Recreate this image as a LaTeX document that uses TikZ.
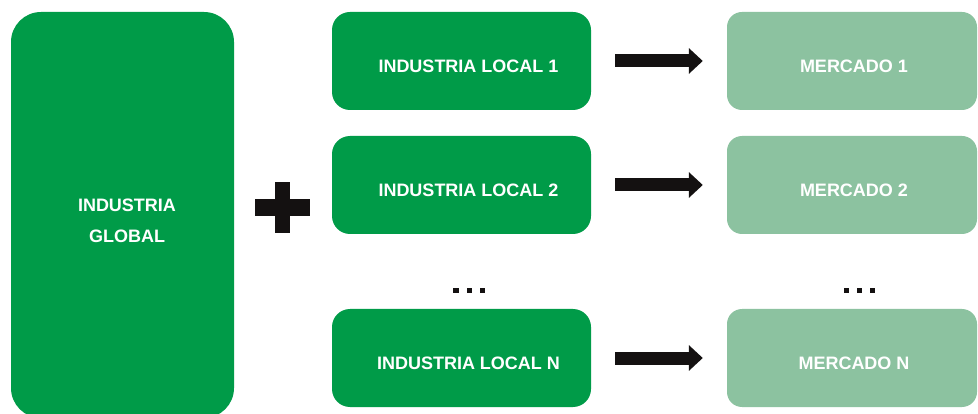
\documentclass[tikz,border=0pt]{standalone}
\usepackage{fontspec}
\setmainfont{Liberation Sans}
\usetikzlibrary{arrows.meta}
\definecolor{darkg}{RGB}{0,155,72}
\definecolor{lightg}{RGB}{140,194,160}
\definecolor{ink}{RGB}{20,17,17}
\begin{document}
\begin{tikzpicture}[x=1pt,y=-1pt,
  box/.style={inner sep=0pt, text=white, font=\bfseries\fontsize{18}{31}\selectfont},
  localbox/.style={box, fill=darkg, minimum width=259pt, minimum height=98pt, rounded corners=18pt, text height=23pt, text depth=0pt},
  marketbox/.style={box, fill=lightg, minimum width=250pt, minimum height=98pt, rounded corners=15pt, text height=23pt, text depth=0pt},
  globalbox/.style={box, fill=darkg, minimum width=223pt, minimum height=406pt, rounded corners=30pt, align=center, text height=55pt, text depth=0pt},
  bigarrow/.style={draw=ink, line width=13pt, -{Triangle[width=25pt,length=14pt]}, shorten <=24pt, shorten >=24pt},
  dotsq/.style={fill=ink}]
\useasboundingbox (0,0) rectangle (978,414);
\clip (0,0) rectangle (978,414);
\fill[white] (0,0) rectangle (978,414);

\node[globalbox] (g) at (122.5,215) {\hspace*{9pt}INDUSTRIA\\\hspace*{9pt}GLOBAL};

\node[localbox] (l1) at (461.5,61) {\hspace*{14pt}INDUSTRIA LOCAL 1};
\node[localbox] (l2) at (461.5,185) {\hspace*{14pt}INDUSTRIA LOCAL 2};
\node[localbox] (ln) at (461.5,358) {\hspace*{14pt}INDUSTRIA LOCAL N};

\node[marketbox] (m1) at (852,61) {\hspace*{4pt}MERCADO 1};
\node[marketbox] (m2) at (852,185) {\hspace*{4pt}MERCADO 2};
\node[marketbox] (mn) at (852,358) {\hspace*{4pt}MERCADO N};

\draw[bigarrow] (l1) -- (m1);
\draw[bigarrow] (l2) -- (m2);
\draw[bigarrow] (ln) -- (mn);

% plus sign
\fill[ink] (275,182) rectangle (290,233);
\fill[ink] (255,199) rectangle (310,216);

% ellipses
\foreach \x in {456,469.3,482.2,846.7,859.7,872.7}
  \fill[dotsq] (\x-2.7,288.5) rectangle (\x+2.7,293.5);
\end{tikzpicture}
\end{document}
